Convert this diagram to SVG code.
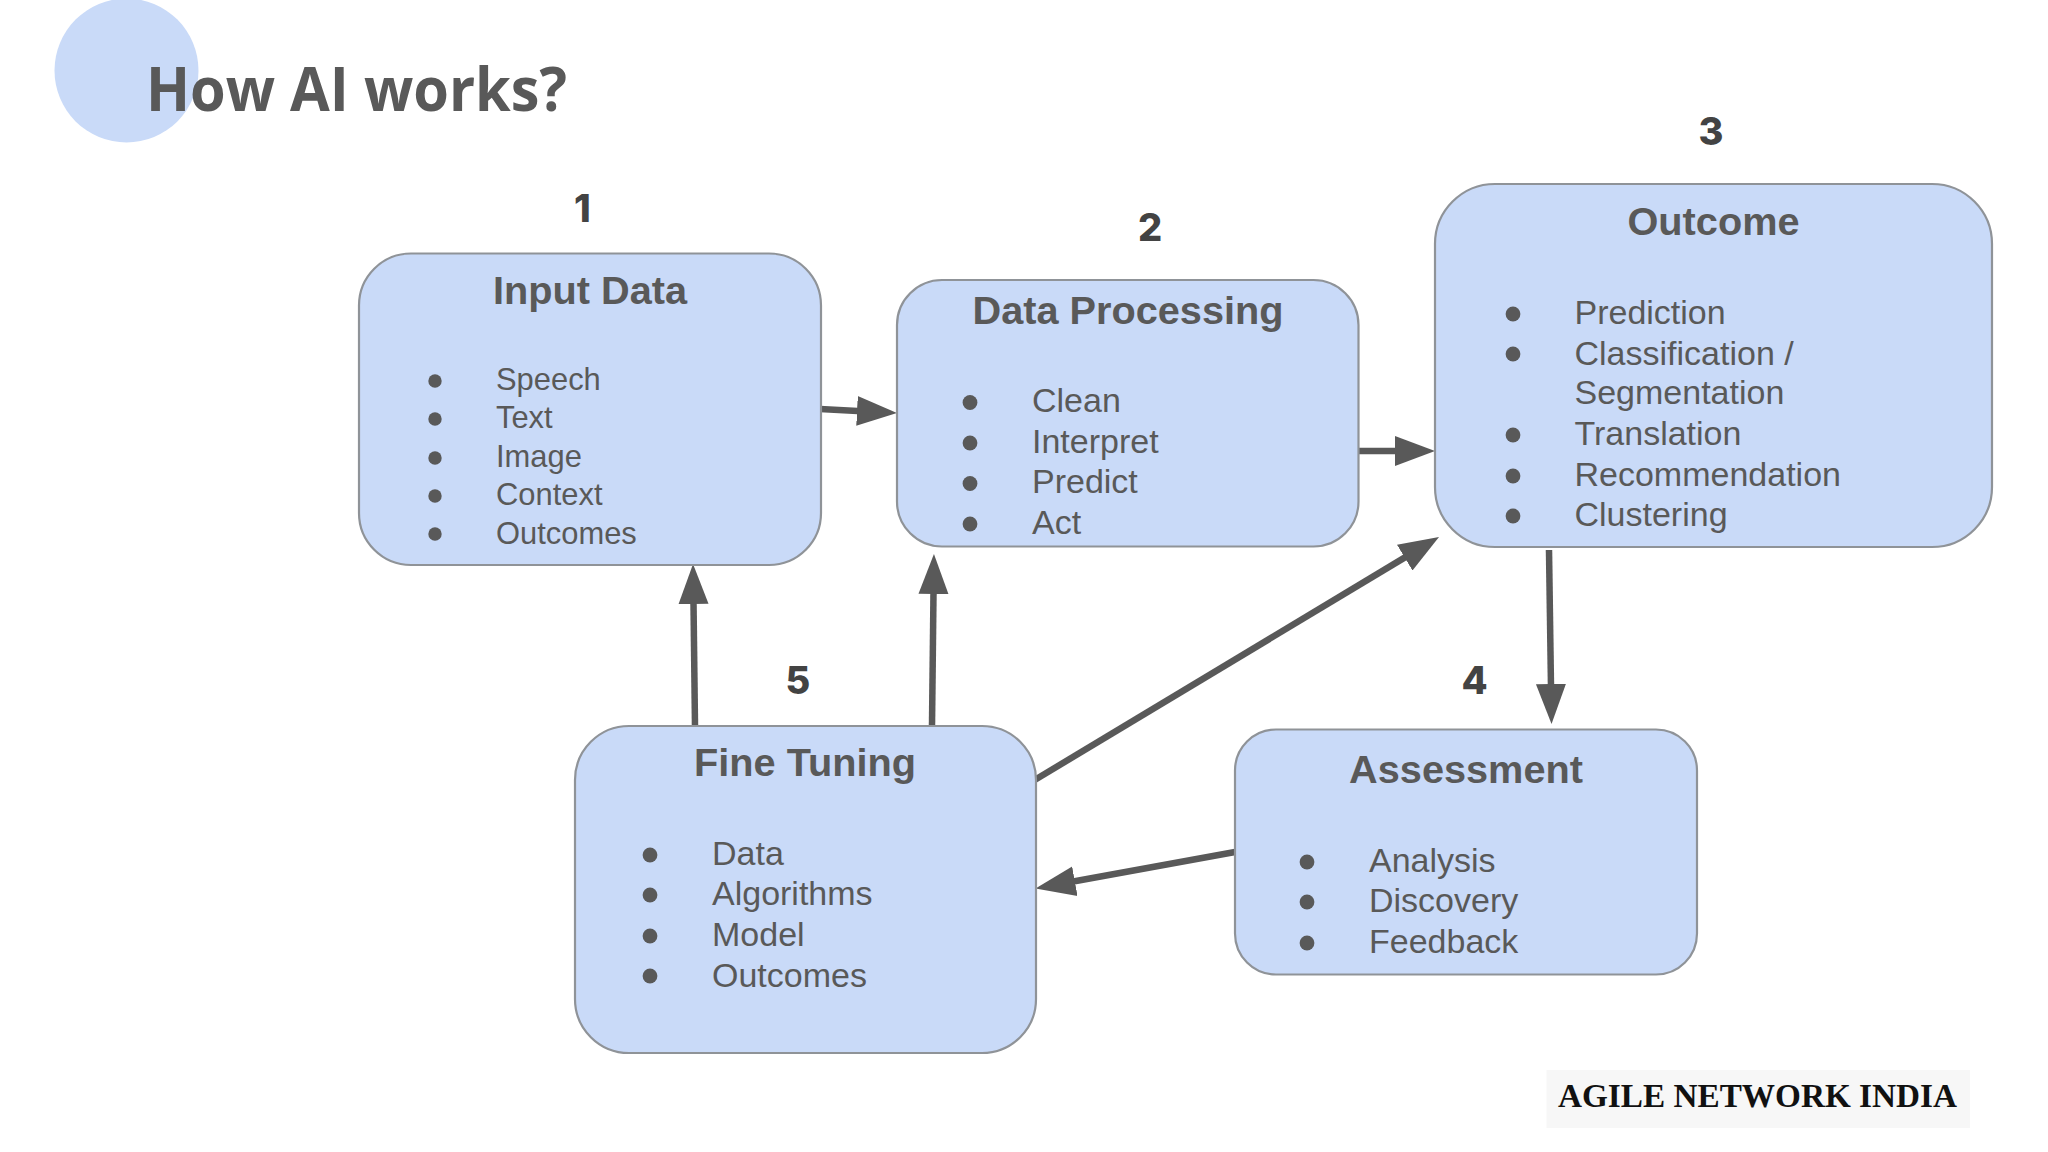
<svg xmlns="http://www.w3.org/2000/svg" width="2048" height="1152" viewBox="0 0 2048 1152">
<defs>
<style>
.box{fill:#c9daf8;stroke:#8f9398;stroke-width:2.2}
.t{font-family:"Liberation Sans",Arial,sans-serif;font-weight:700;font-size:39.7px;fill:#595959;text-anchor:middle}
.b{font-family:"Liberation Sans",Arial,sans-serif;font-size:34px;fill:#595959}
.s{font-size:30.9px}
.d{fill:#595959}
.n{font-family:"Inter","Liberation Sans",sans-serif;font-weight:800;font-size:38px;fill:#434343;text-anchor:middle}
.c{stroke:#595959;stroke-width:6.5;fill:none;marker-end:url(#ah)}
</style>
<marker id="ah" markerUnits="userSpaceOnUse" markerWidth="42" markerHeight="32" refX="10" refY="16" orient="auto" viewBox="0 0 42 32"><path d="M0 1 L40 16 L0 31 Z" fill="#595959"/></marker>
</defs>
<rect width="2048" height="1152" fill="#fff"/>
<g id="header">
<circle cx="126.5" cy="70.5" r="72" fill="#c9daf8"/>
<text x="146" y="110.5" font-family="Open Sans,Liberation Sans,sans-serif" font-weight="700" font-size="60" fill="#595959" textLength="421" lengthAdjust="spacingAndGlyphs">How AI works?</text>
</g>
<g id="connectors">
<line class="c" x1="820" y1="409" x2="867" y2="411.4"/>
<line class="c" x1="1358" y1="451" x2="1405" y2="451"/>
<line class="c" x1="1549" y1="550" x2="1551.1" y2="694"/>
<line class="c" x1="1235" y1="852" x2="1065" y2="883"/>
<line class="c" x1="1033" y1="781" x2="1413.3" y2="552.4"/>
<line class="c" x1="695" y1="726" x2="693.4" y2="594"/>
<line class="c" x1="932" y1="726" x2="933.6" y2="584"/>
</g>
<g id="node-input">
<rect class="box" x="359" y="253.5" width="462" height="311.5" rx="52"/>
<text class="n" x="582.5" y="222">1</text>
<text class="t" x="590" y="304">Input Data</text>
<g class="d"><circle cx="435" cy="381" r="6.7"/><circle cx="435" cy="419" r="6.7"/><circle cx="435" cy="458" r="6.7"/><circle cx="435" cy="496" r="6.7"/><circle cx="435" cy="534" r="6.7"/></g>
<text class="b s" x="496" y="390">Speech</text>
<text class="b s" x="496" y="428">Text</text>
<text class="b s" x="496" y="467">Image</text>
<text class="b s" x="496" y="505">Context</text>
<text class="b s" x="496" y="543.5">Outcomes</text>
</g>
<g id="node-processing">
<rect class="box" x="897" y="280" width="461.5" height="266.5" rx="45"/>
<text class="n" x="1150" y="241">2</text>
<text class="t" x="1128" y="323.5">Data Processing</text>
<g class="d"><circle cx="970" cy="402.5" r="7.4"/><circle cx="970" cy="443" r="7.4"/><circle cx="970" cy="483.5" r="7.4"/><circle cx="970" cy="524" r="7.4"/></g>
<text class="b" x="1032" y="412">Clean</text>
<text class="b" x="1032" y="453">Interpret</text>
<text class="b" x="1032" y="493">Predict</text>
<text class="b" x="1032" y="534">Act</text>
</g>
<g id="node-outcome">
<rect class="box" x="1435" y="184" width="557" height="363" rx="60"/>
<text class="n" x="1711" y="145">3</text>
<text class="t" x="1713.5" y="235">Outcome</text>
<g class="d"><circle cx="1513" cy="314" r="7.4"/><circle cx="1513" cy="354" r="7.4"/><circle cx="1513" cy="435" r="7.4"/><circle cx="1513" cy="476" r="7.4"/><circle cx="1513" cy="516" r="7.4"/></g>
<text class="b" x="1574.5" y="324">Prediction</text>
<text class="b" x="1574.5" y="364.5">Classification /</text>
<text class="b" x="1574.5" y="404">Segmentation</text>
<text class="b" x="1574.5" y="445">Translation</text>
<text class="b" x="1574.5" y="485.5">Recommendation</text>
<text class="b" x="1574.5" y="526">Clustering</text>
</g>
<g id="node-assessment">
<rect class="box" x="1235" y="729.5" width="462" height="245" rx="41"/>
<text class="n" x="1474.5" y="694">4</text>
<text class="t" x="1466" y="782.5">Assessment</text>
<g class="d"><circle cx="1307" cy="862" r="7.4"/><circle cx="1307" cy="902" r="7.4"/><circle cx="1307" cy="943" r="7.4"/></g>
<text class="b" x="1369" y="871.5">Analysis</text>
<text class="b" x="1369" y="912">Discovery</text>
<text class="b" x="1369" y="952.5">Feedback</text>
</g>
<g id="node-finetuning">
<rect class="box" x="575" y="726" width="461" height="327" rx="54"/>
<text class="n" x="798" y="694">5</text>
<text class="t" x="805" y="776">Fine Tuning</text>
<g class="d"><circle cx="650" cy="855" r="7.4"/><circle cx="650" cy="895" r="7.4"/><circle cx="650" cy="936" r="7.4"/><circle cx="650" cy="976" r="7.4"/></g>
<text class="b" x="712" y="864.5">Data</text>
<text class="b" x="712" y="905">Algorithms</text>
<text class="b" x="712" y="945.5">Model</text>
<text class="b" x="712" y="986.5">Outcomes</text>
</g>
<g id="footer">
<rect x="1546.5" y="1070" width="423.5" height="58" fill="#f7f7f7"/>
<text x="1558" y="1107" font-family="Liberation Serif,Times New Roman,serif" font-weight="700" font-size="34" fill="#111" textLength="399" lengthAdjust="spacingAndGlyphs">AGILE NETWORK INDIA</text>
</g>
</svg>
